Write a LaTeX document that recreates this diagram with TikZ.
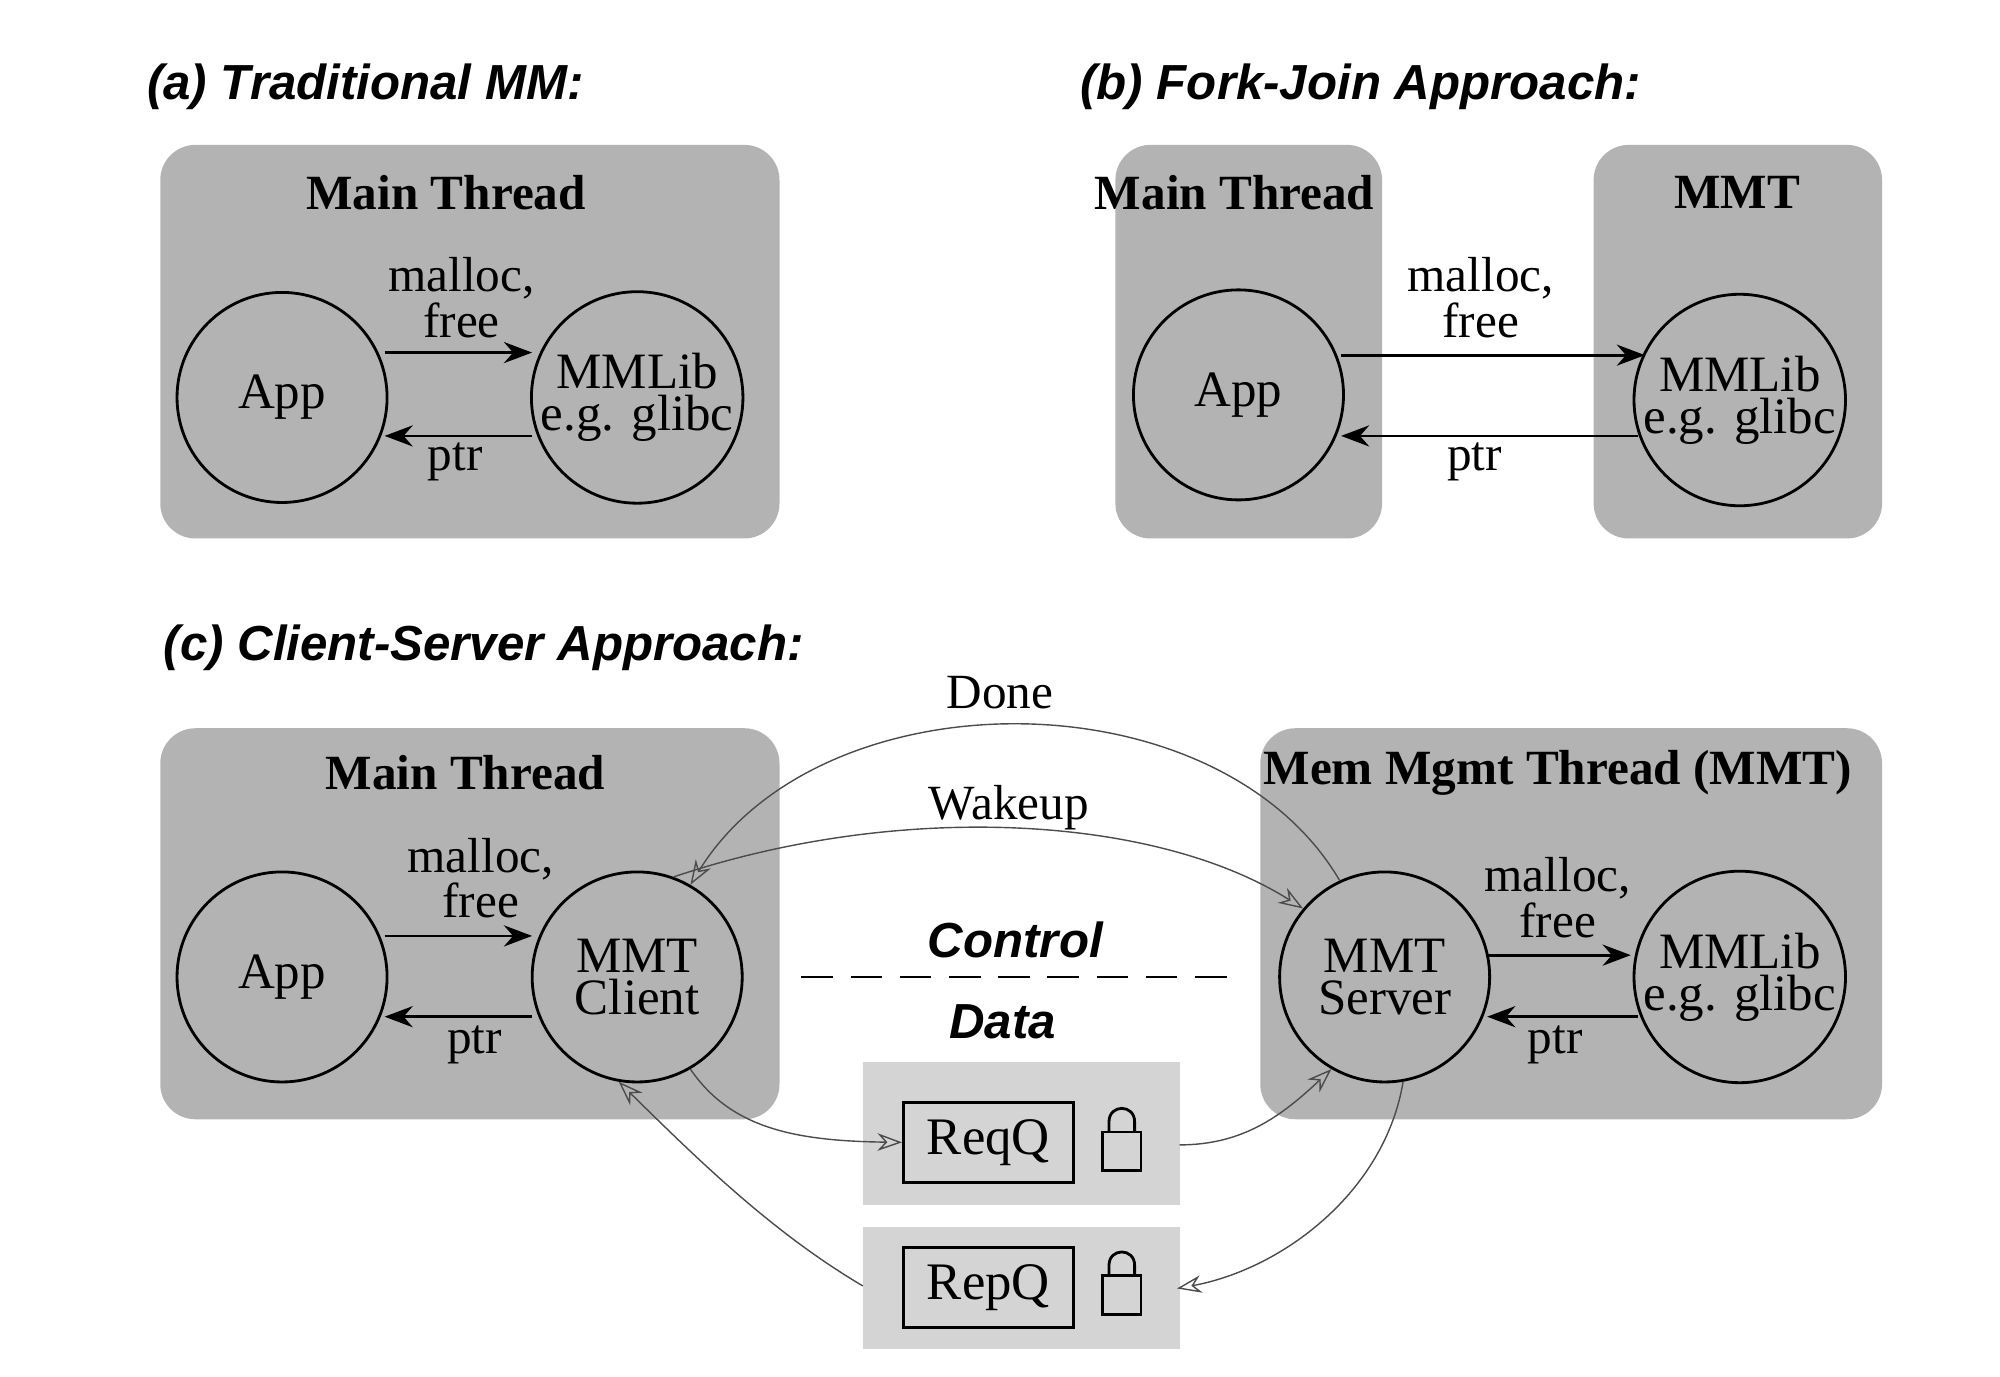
\documentclass[tikz,border=0pt]{standalone}
\usepackage{fontspec}
\setmainfont{Liberation Serif}
\newfontfamily\titlefont{Liberation Sans}
\usetikzlibrary{arrows.meta}
\definecolor{boxgray}{HTML}{B3B3B3}
\definecolor{qgray}{HTML}{D4D4D4}
\tikzset{
  thread/.style={fill=boxgray,rounded corners=10pt},
  unit/.style={circle,draw,thick,minimum size=2.1cm,inner sep=0pt,align=center,font=\fontsize{14.5}{12}\selectfont},
  head/.style={font=\fontsize{14}{14}\selectfont\bfseries},
  lbl/.style={font=\fontsize{14}{11.5}\selectfont,align=center},
  title/.style={anchor=west,font=\titlefont\fontsize{14}{14}\selectfont\bfseries\itshape},
  call/.style={thick,-{Stealth[length=8pt]}},
  msg/.style={gray!60!black,-{Stealth[length=7pt,width=5pt,open]}},
  qbox/.style={draw,thick,minimum width=1.7cm,minimum height=0.8cm,font=\fontsize{15}{15}\selectfont}
}
\begin{document}
\begin{tikzpicture}[x=0.01282cm,y=-0.01282cm]
\useasboundingbox (0,0) rectangle (1560,1074);
% (a)
\node[title] (ta) at (105,68) {(a) Traditional MM:};
\fill[thread] (125,113) rectangle (608,420);
\node[head] (ha) at (348,150) {Main Thread};
\node[unit] (appa) at (220,310) {App};
\node[unit] (liba) at (497,310) {MMLib\\e.g. glibc};
\coordinate (a1) at (300,275); \coordinate (a2) at (415,275);
\coordinate (a3) at (415,340); \coordinate (a4) at (300,340);
\draw[call] (a1) -- (a2);
\draw[call] (a3) -- (a4);
\node[lbl] (ma) at (360,232) {malloc,\\free};
\node[lbl] (pa) at (355,360) {ptr};
% (b)
\node[title] (tb) at (833,68) {(b) Fork-Join Approach:};
\fill[thread] (870,113) rectangle (1078,420);
\fill[thread] (1243,113) rectangle (1468,420);
\node[head] (hb) at (963,150) {Main Thread};
\node[head] (hm) at (1355,150) {MMT};
\node[unit] (appb) at (966,308) {App};
\node[unit] (libb) at (1357,312) {MMLib\\e.g. glibc};
\coordinate (b1) at (1046,277); \coordinate (b2) at (1283,277);
\coordinate (b3) at (1278,340); \coordinate (b4) at (1046,340);
\draw[call] (b1) -- (b2);
\draw[call] (b3) -- (b4);
\node[lbl] (mb) at (1155,232) {malloc,\\free};
\node[lbl] (pb) at (1150,360) {ptr};
% (c)
\node[title] (tc) at (118,505) {(c) Client-Server Approach:};
\fill[thread] (125,568) rectangle (608,873);
\fill[thread] (983,568) rectangle (1468,873);
\node[head] (hc) at (363,603) {Main Thread};
\node[head] (hs) at (1215,603) {Mem Mgmt Thread (MMT)};
\node[unit] (appc) at (220,762) {App};
\node[unit] (cli) at (497,762) {MMT\\Client};
\node[unit] (srv) at (1080,762) {MMT\\Server};
\node[unit] (libc) at (1357,762) {MMLib\\e.g. glibc};
\coordinate (c1) at (300,730); \coordinate (c2) at (415,730);
\coordinate (c3) at (415,793); \coordinate (c4) at (300,793);
\draw[call] (c1) -- (c2);
\draw[call] (c3) -- (c4);
\node[lbl] (mc) at (375,685) {malloc,\\free};
\node[lbl] (pc) at (370,815) {ptr};
\coordinate (s1) at (1160,745); \coordinate (s2) at (1272,745);
\coordinate (s3) at (1278,793); \coordinate (s4) at (1160,793);
\draw[call] (s1) -- (s2);
\draw[call] (s3) -- (s4);
\node[lbl] (ms) at (1215,700) {malloc,\\free};
\node[lbl] (ps) at (1213,815) {ptr};
% control / data
\node[title,anchor=center] (ctl) at (792,733) {Control};
\node[title,anchor=center] (dat) at (782,797) {Data};
\draw[thick,dash pattern=on 9pt off 5pt] (625,762) -- (960,762);
% queues
\fill[qgray] (673,828) rectangle (920,940);
\fill[qgray] (673,957) rectangle (920,1052);
\node[qbox] (req) at (771,891) {ReqQ};
\node[qbox] (rep) at (771,1004) {RepQ};
\foreach \n/\y in {lka/893,lkb/1005}{
  \draw[thick,fill=qgray] (860,\y-10) rectangle (890,\y+20);
  \draw[thick] (865,\y-10) -- (865,\y-18) .. controls (865,\y-32) and (885,\y-32) .. (885,\y-18) -- (885,\y-10);
  \coordinate (\n) at (876,\y);
}
% messages
\draw[msg] (srv.115) .. controls (950,525) and (640,525) .. (cli.60);
\node[lbl] (done) at (780,540) {Done};
\draw[msg] (cli.70) .. controls (700,625) and (900,635) .. (srv.140);
\node[lbl] (wake) at (787,630) {Wakeup};
\draw[msg] (cli.-60) .. controls (570,880) and (620,890) .. (req.west);
\draw[msg] (920,893) .. controls (970,893) and (1000,870) .. (srv.-120);
\draw[msg] (srv.-80) .. controls (1080,930) and (1000,990) .. (918,1005);
\draw[msg] (673,1003) .. controls (600,960) and (540,900) .. (cli.-100);
\end{tikzpicture}
\end{document}
